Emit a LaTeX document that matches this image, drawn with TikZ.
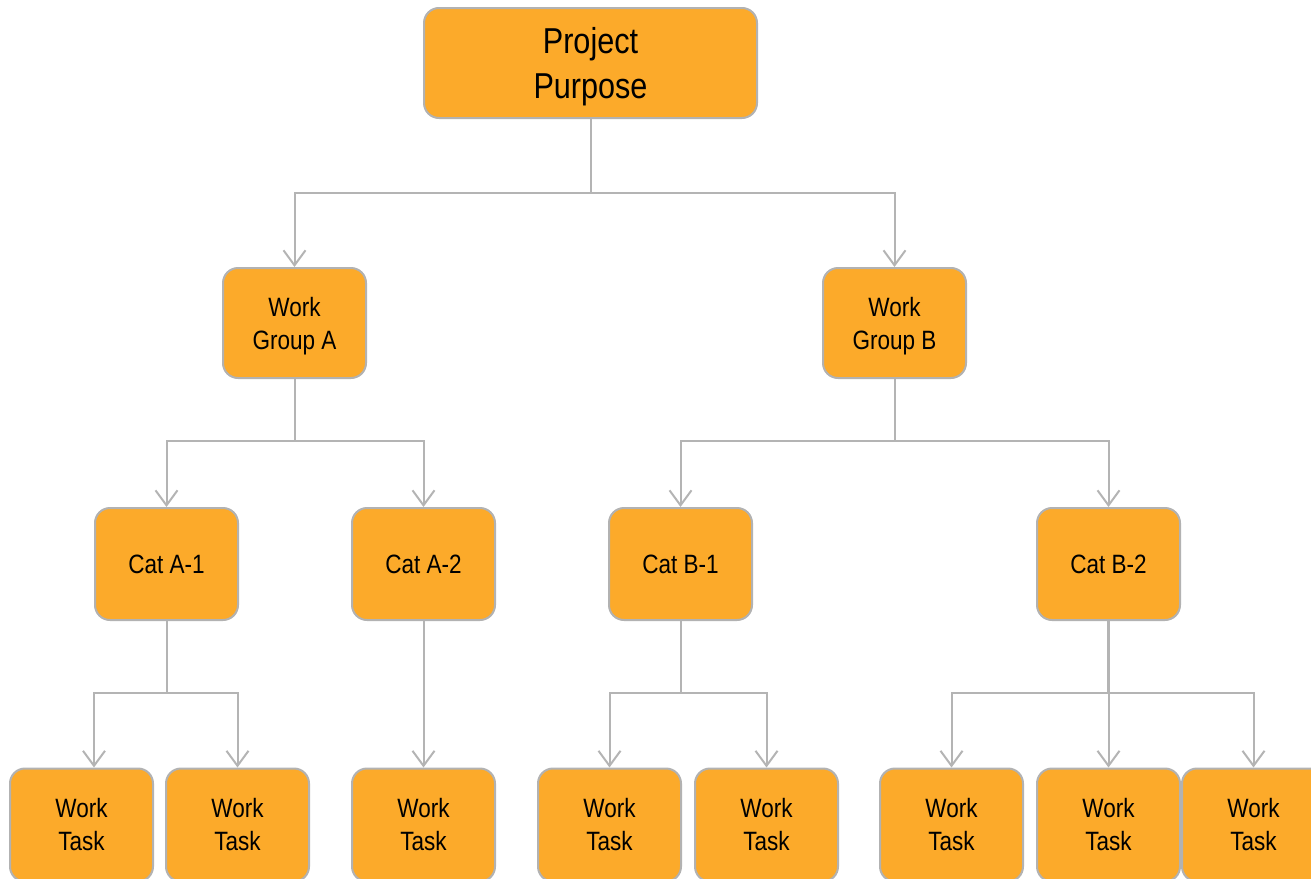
\documentclass[tikz,border=0pt]{standalone}
\usepackage{fontspec}
\setmainfont{Liberation Sans}[FakeStretch=0.85]
\usetikzlibrary{arrows.meta}
\definecolor{boxfill}{RGB}{252,170,42}
\definecolor{boxline}{RGB}{178,178,178}
\definecolor{wirecol}{RGB}{180,180,180}

\begin{document}
\begin{tikzpicture}[x=1pt,y=-1pt,
  box/.style={draw=boxline, line width=2pt, fill=boxfill, rounded corners=15pt,
    minimum width=143pt, minimum height=110pt, inner sep=0pt, align=center,
    font=\fontsize{26.5}{33}\selectfont},
  wire/.style={draw=wirecol, line width=2pt},
  arr/.style={wire, -{Straight Barb[length=15pt,width=22pt]}}
]
\useasboundingbox (0,0) rectangle (1311,878);

% root
\node[box, minimum width=333pt, font=\fontsize{36}{45}\selectfont] (root) at (590.5,63) {Project\\\smash{Purpose}};

% work groups
\node[box] (wga) at (294.5,323) {Work\\\smash{Group A}};
\node[box] (wgb) at (894.5,323) {Work\\\smash{Group B}};

% categories
\node[box, minimum height=112pt] (ca1) at (166.5,564) {Cat A-1};
\node[box, minimum height=112pt] (ca2) at (423.5,564) {Cat A-2};
\node[box, minimum height=112pt] (cb1) at (680.5,564) {Cat B-1};
\node[box, minimum height=112pt] (cb2) at (1108.5,564) {Cat B-2};

% tasks
\tikzset{task/.style={box, minimum height=113pt}}
\node[task] (t1) at (81.5,825) {Work\\Task};
\node[task] (t2) at (237.5,825) {Work\\Task};
\node[task] (t3) at (423.5,825) {Work\\Task};
\node[task] (t4) at (609.5,825) {Work\\Task};
\node[task] (t5) at (766.5,825) {Work\\Task};
\node[task] (t6) at (951.5,825) {Work\\Task};
\node[task] (t7) at (1108.5,825) {Work\\Task};
\node[task] (t8) at (1253.5,825) {Work\\Task};

% branch points
\coordinate (j0) at (590.5,193);
\coordinate (ja) at (294.5,441);
\coordinate (jb) at (894.5,441);
\coordinate (ja1) at (166.5,693);
\coordinate (jb1) at (680.5,693);
\coordinate (jb2) at (1108.5,693);

% level 1
\draw[wire] (root.south) -- (j0);
\draw[arr] (j0) -| (wga.north);
\draw[arr] (j0) -| (wgb.north);

% level 2
\draw[wire] (wga.south) -- (ja);
\draw[arr] (ja) -| (ca1.north);
\draw[arr] (ja) -| (ca2.north);
\draw[wire] (wgb.south) -- (jb);
\draw[arr] (jb) -| (cb1.north);
\draw[arr] (jb) -| (cb2.north);

% level 3
\draw[wire] (ca1.south) -- (ja1);
\draw[arr] (ja1) -| (ca1.west |- t1.north);
\draw[arr] (ja1) -| (t2.north);
\draw[arr] (ca2.south) -- (t3.north);
\draw[wire] (cb1.south) -- (jb1);
\draw[arr] (jb1) -| (t4.north);
\draw[arr] (jb1) -| (t5.north);
\draw[wire, line width=3pt] (cb2.south) -- (jb2);
\draw[arr] (jb2) -| (t6.north);
\draw[arr] (jb2) -- (t7.north);
\draw[arr] (jb2) -| (t8.north);
\end{tikzpicture}
\end{document}
